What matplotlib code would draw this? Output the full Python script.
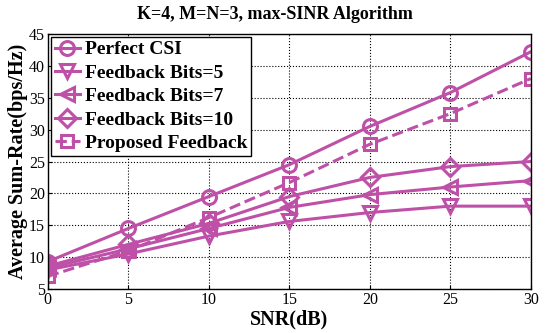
import matplotlib
matplotlib.use("Agg")
import matplotlib.pyplot as plt

snr = [0, 5, 10, 15, 20, 25, 30]
perfect = [9.3, 14.5, 19.5, 24.5, 30.5, 35.8, 42.2]
bits5 = [8.0, 10.5, 13.3, 15.6, 17.0, 18.0, 18.0]
bits7 = [8.3, 11.3, 14.5, 17.8, 19.8, 21.0, 22.0]
bits10 = [8.6, 12.0, 15.3, 19.5, 22.5, 24.2, 25.0]
proposed = [7.0, 11.0, 16.2, 21.7, 27.7, 32.5, 38.0]

labels = ["Perfect CSI", "Feedback Bits=5", "Feedback Bits=7",
          "Feedback Bits=10", "Proposed Feedback"]

color = "#BE50A8"
plt.rcParams['font.family'] = ['Liberation Serif', 'DejaVu Serif']

fig = plt.figure(figsize=(5.5, 3.33), dpi=100)
ax = fig.add_axes([0.087, 0.132, 0.878, 0.766])

series = [perfect, bits5, bits7, bits10, proposed]
markers = ['o', 'v', '<', 'D', 's']
styles = ['-', '-', '-', '-', '--']
msizes = [10, 10, 10, 9, 8.5]
for ys, m, ls, lab, ms in zip(series, markers, styles, labels, msizes):
    ax.plot(snr, ys, linestyle=ls, marker=m, color=color, lw=2.2,
            markersize=ms, markerfacecolor='none', markeredgewidth=2.2,
            label=lab)

ax.set_xlim(0, 30)
ax.set_ylim(5, 45)
ax.set_xticks(snr)
ax.set_yticks(range(5, 46, 5))
ax.tick_params(direction='in', labelsize=11.5, length=3, pad=2)
ax.grid(True, linestyle=':', color='black', linewidth=0.8)
for s in ax.spines.values():
    s.set_linewidth(1.0)

fig.text(0.5, 0.955, "K=4, M=N=3, max-SINR Algorithm", fontsize=13,
         fontweight='bold', ha='center', va='center')
ax.set_xlabel("SNR(dB)", fontsize=14.5, fontweight='bold', labelpad=1)
ax.set_ylabel("Average Sum-Rate(bps/Hz)", fontsize=14.5, fontweight='bold', labelpad=1)

leg = ax.legend(loc='upper left', prop={'size': 14, 'weight': 'bold'},
                frameon=True, fancybox=False, edgecolor='black',
                handlelength=1.3, handletextpad=0.25, borderpad=0.2,
                labelspacing=0.3, borderaxespad=0.15, framealpha=1)
leg.get_frame().set_linewidth(1.0)

fig.savefig("out.png", dpi=100)
